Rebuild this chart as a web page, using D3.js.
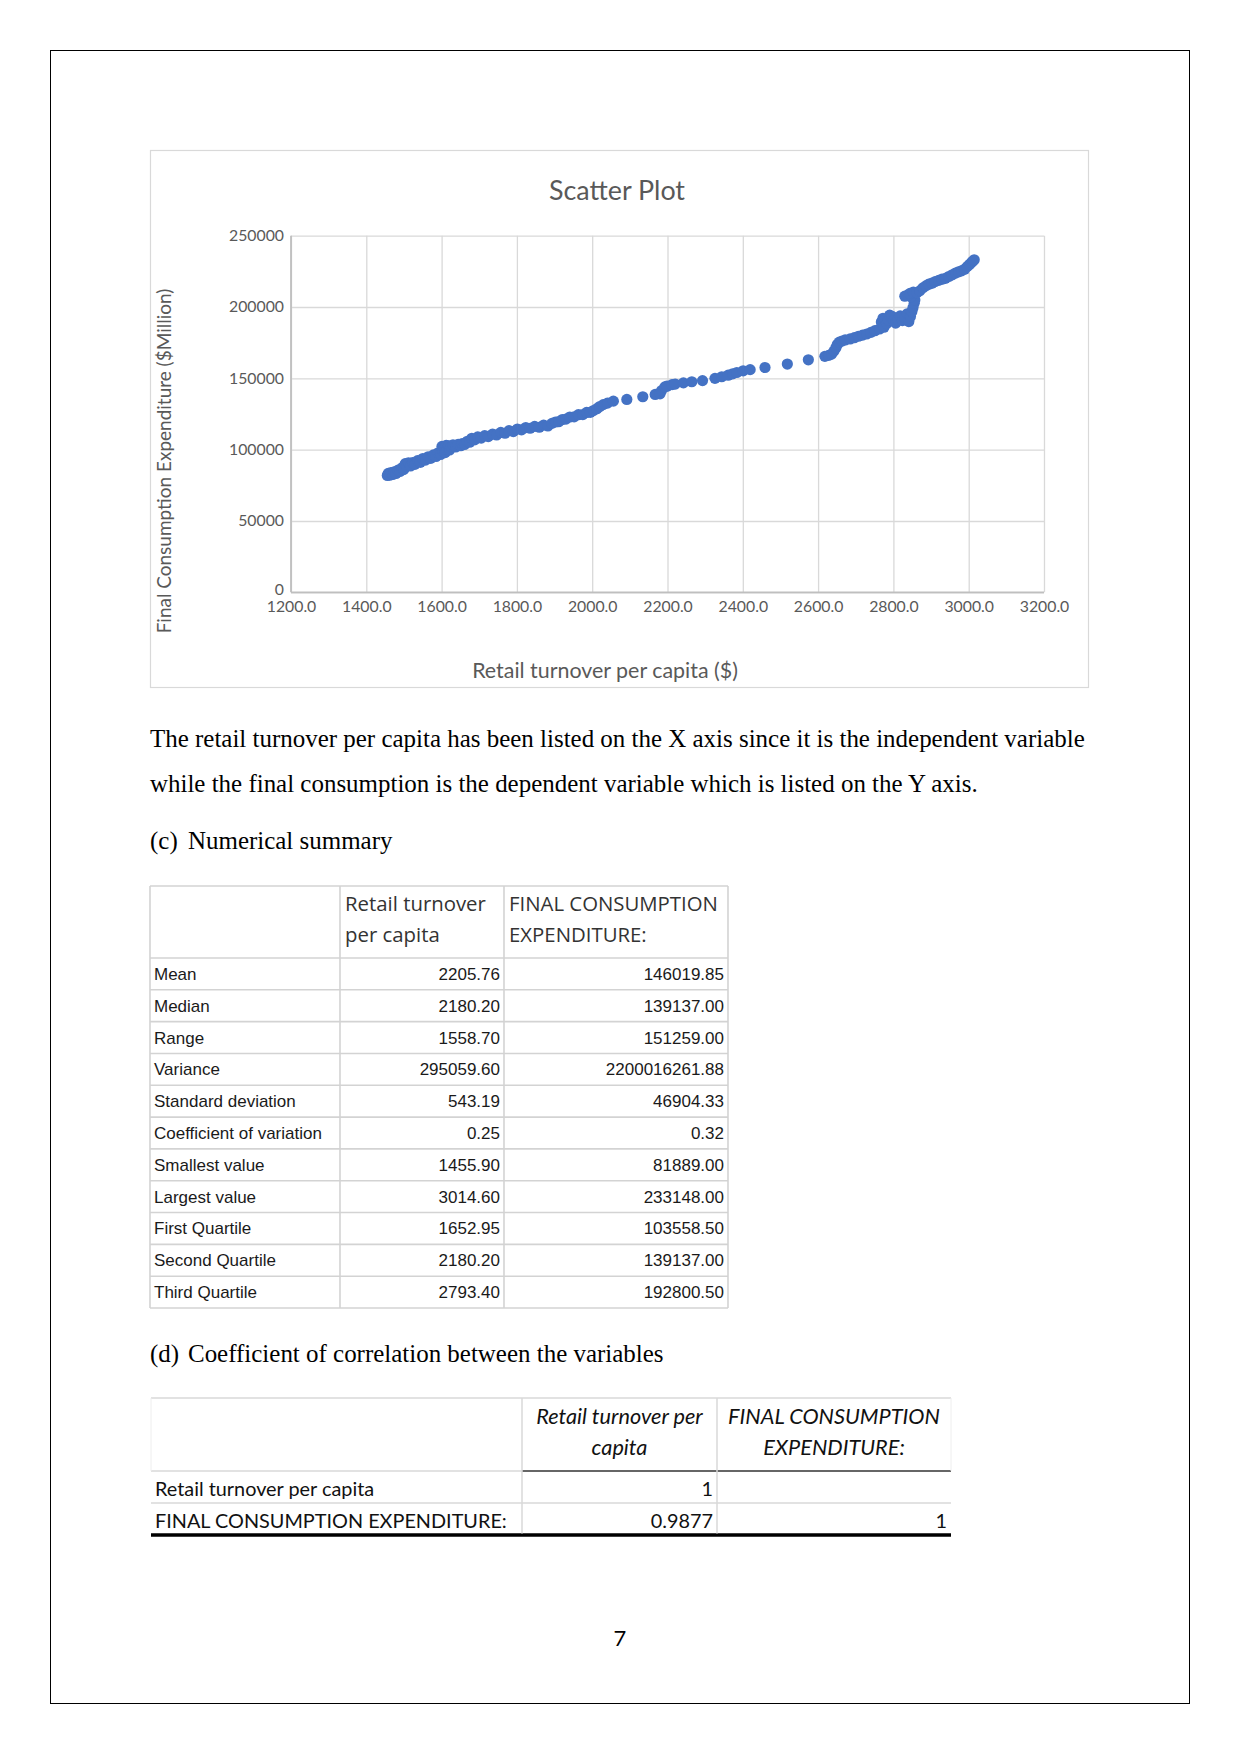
<!DOCTYPE html>
<html>
<head>
<meta charset="utf-8">
<script src="https://cdn.jsdelivr.net/npm/d3@7/dist/d3.min.js"></script>
<style>
  html, body { margin: 0; padding: 0; background: #fff; }
  svg { display: block; }
</style>
</head>
<body>
<svg id="page" width="1241" height="1754"></svg>
<script>
// ---------------- DATA ----------------
const retailTurnover = [
  1455.9,1458.3,1462.1,1465.8,1470.4,1474.2,1479.0,1484.3,1489.1,1494.6,1499.2,1503.5,1507.3,1512.0,1517.4,
  1523.1,1529.0,1536.2,1543.5,1550.1,1557.3,1564.2,1571.0,1578.4,1585.2,1591.0,1597.3,1601.0,1603.7,1606.1,
  1609.4,1612.2,1615.0,1618.3,1621.1,1625.4,1630.2,1637.5,1644.0,1651.2,
  1654.7,1661.0,1668.2,1674.5,1680.3,1687.9,1696.0,1705.2,1714.4,1724.0,1735.3,1746.1,1757.2,1768.4,1779.0,
  1790.5,1801.2,1812.3,1823.6,1835.0,1847.2,1859.4,1871.0,1882.3,1893.1,1902.4,1911.0,1920.6,1930.2,1940.5,
  1952.0,1963.4,1975.1,1985.3,1995.0,2003.2,2012.5,2020.1,2029.3,2040.6,2056.2,2092.0,2134.4,2167.3,2180.2,
  2184.0,2193.1,2198.5,2212.2,2220.4,2242.3,2264.5,2293.0,2326.1,
  2344.0,2361.2,2373.0,2384.1,2401.0,2419.5,2459.0,2518.3,2574.1,2618.0,2628.2,2636.0,2642.1,
  2647.3,2651.0,2656.2,2663.4,2672.0,2685.1,2696.3,2707.0,2718.2,2729.0,2740.3,2751.0,2763.2,2768.0,2772.4,
  2775.0,2778.6,2782.0,2786.3,2790.1,
  2793.4,2796.0,2801.2,2806.0,2812.3,2818.1,2824.0,2830.2,2836.4,2841.0,2845.3,2849.1,2852.0,2855.2,2857.0,
  2846.3,2838.0,2830.4,2844.1,2853.0,2862.2,2870.0,2878.3,2886.1,2894.0,2902.2,2911.0,2920.3,2929.0,2938.1,
  2947.0,2956.2,2965.0,2973.1,2981.0,2989.2,2996.0,3002.1,3007.0,3011.3,3014.6
];
const finalConsumption = [
  81889,83400,82100,84000,82600,84500,83300,85600,84700,87200,86000,90200,88300,90800,88600,
  91000,89700,92300,91100,93800,92700,95000,93900,96300,95200,97800,96600,102300,99000,101000,
  97900,103000,100200,102700,99800,102200,103400,101900,103700,102800,
  104300,103600,105900,105200,108000,106900,108900,108100,109800,109200,110900,110300,112100,111500,113300,
  112700,114500,113900,115500,115000,116300,115700,117200,116600,118400,119400,119600,121100,121400,122900,
  123000,124500,124600,126100,126200,127400,128700,130200,131600,132600,134000,135200,137100,138700,139137,
  141400,144000,144500,145600,146000,146800,147600,148400,150000,
  151100,152200,153200,154100,155300,156100,157600,160000,163000,165400,166100,167000,169100,
  171500,173700,175400,176100,176900,177600,178500,179500,180300,181100,182200,183400,184600,189500,192100,
  185800,191200,188400,190800,194300,
  192800,193500,190200,188700,191000,193800,190500,192600,195200,189800,193400,196800,199500,202600,205000,
  207100,208300,207600,209500,210400,210000,211300,213400,214800,216000,216700,217800,218700,219500,220100,
  221400,222600,223800,224700,225400,226500,228300,229800,231100,232200,233148
];
const xTicks = [1200,1400,1600,1800,2000,2200,2400,2600,2800,3000,3200];
const yTicks = [0,50000,100000,150000,200000,250000];

const chartTitle = "Scatter Plot";
const xTitle = "Retail turnover per capita ($)";
const yTitle = "Final Consumption Expenditure ($Million)";

const paragraphLines = [
  "The retail turnover per capita has been listed on the X axis since it is the independent variable",
  "while the final consumption is the dependent variable which is listed on the Y axis."
];
const sectionC = ["(c)", "Numerical summary"];
const sectionD = ["(d)", "Coefficient of correlation between the variables"];

const statHeaders = [["Retail turnover","per capita"],["FINAL CONSUMPTION","EXPENDITURE:"]];
const statLabels = ["Mean","Median","Range","Variance","Standard deviation","Coefficient of variation",
  "Smallest value","Largest value","First Quartile","Second Quartile","Third Quartile"];
const retailStats = [2205.76,2180.20,1558.70,295059.60,543.19,0.25,1455.90,3014.60,1652.95,2180.20,2793.40];
const consumptionStats = [146019.85,139137.00,151259.00,2200016261.88,46904.33,0.32,81889.00,233148.00,103558.50,139137.00,192800.50];

const corrHeaders = [["Retail turnover per","capita"],["FINAL CONSUMPTION","EXPENDITURE:"]];
const corrLabels = ["Retail turnover per capita","FINAL CONSUMPTION EXPENDITURE:"];
const corrValues = [["1",""],["0.9877","1"]];
const pageNumber = "7";

// ---------------- DRAW ----------------
const svg = d3.select("#page");
function fit(sel, target) {
  const w = sel.node().getComputedTextLength();
  const fs = parseFloat(sel.attr("font-size"));
  const nf = fs * target / w;
  sel.attr("font-size", nf);
  return nf;
}

// page border
svg.append("rect").attr("x", 50.5).attr("y", 50.5).attr("width", 1139).attr("height", 1653)
  .attr("fill", "none").attr("stroke", "#000").attr("stroke-width", 1);

// chart box
svg.append("rect").attr("x", 150.5).attr("y", 150.5).attr("width", 938).attr("height", 537)
  .attr("fill", "#fff").attr("stroke", "#d9d9d9").attr("stroke-width", 1.2);

const x = d3.scaleLinear().domain([1200, 3200]).range([291, 1044]);
const y = d3.scaleLinear().domain([0, 250000]).range([592.3, 235.7]);
const chartFont = "Lato, 'Open Sans', sans-serif";
const grey = "#595959";

// gridlines via axes
const gx = svg.append("g").attr("transform", `translate(0,${y(0)})`)
  .call(d3.axisBottom(x).tickValues(xTicks).tickSize(-(y(0) - y(250000))).tickFormat(d3.format(".1f")));
gx.select(".domain").remove();
gx.selectAll("line").attr("stroke", "#d9d9d9").attr("stroke-width", 1.3);
gx.selectAll("text").attr("fill", grey).attr("font-family", chartFont).attr("font-size", 16)
  .attr("y", 8.5).attr("dy", "0.71em");

const gy = svg.append("g").attr("transform", `translate(${x(1200)},0)`)
  .call(d3.axisLeft(y).tickValues(yTicks).tickSize(-(x(3200) - x(1200))).tickFormat(d3.format("d")));
gy.select(".domain").remove();
gy.selectAll("line").attr("stroke", "#d9d9d9").attr("stroke-width", 1.3);
gy.selectAll("text").attr("fill", grey).attr("font-family", chartFont).attr("font-size", 16)
  .attr("x", -7).attr("dy", d => d === 0 ? "0.15em" : "0.3em");

// tick label size
const probe = gy.selectAll("text").filter(d => d === 250000);
const tfs = fit(probe, 55);
gy.selectAll("text").attr("font-size", tfs);
gx.selectAll("text").attr("font-size", tfs);

// axis lines (slightly darker)
svg.append("line").attr("x1", x(1200)).attr("x2", x(1200)).attr("y1", y(250000)).attr("y2", y(0))
  .attr("stroke", "#bfbfbf").attr("stroke-width", 1.8);
svg.append("line").attr("x1", x(1200)).attr("x2", x(3200)).attr("y1", y(0)).attr("y2", y(0))
  .attr("stroke", "#bfbfbf").attr("stroke-width", 1.8);

// points
const pts = retailTurnover.map((v, i) => [v, finalConsumption[i]]);
svg.append("g").selectAll("circle").data(pts).join("circle")
  .attr("cx", d => x(d[0])).attr("cy", d => y(d[1])).attr("r", 5.6)
  .attr("fill", "#4472c4");

// titles
const t = svg.append("text").attr("x", 617).attr("y", 200).attr("text-anchor", "middle")
  .attr("font-family", chartFont).attr("font-size", 24).attr("fill", grey).text(chartTitle);
fit(t, 136);
const xt = svg.append("text").attr("x", 605).attr("y", 678).attr("text-anchor", "middle")
  .attr("font-family", chartFont).attr("font-size", 18).attr("fill", grey).text(xTitle);
fit(xt, 266);
const yt = svg.append("text").attr("transform", "translate(171,461) rotate(-90)").attr("text-anchor", "middle")
  .attr("font-family", chartFont).attr("font-size", 17).attr("fill", grey).text(yTitle);
fit(yt, 345);

// body text
const serif = "'Liberation Serif', 'Times New Roman', serif";
const p1 = svg.append("text").attr("x", 150).attr("y", 747).attr("font-family", serif)
  .attr("font-size", 22).attr("fill", "#000").text(paragraphLines[0]);
const bfs = fit(p1, 935);
svg.append("text").attr("x", 150).attr("y", 792).attr("font-family", serif)
  .attr("font-size", bfs).attr("fill", "#000").text(paragraphLines[1]);
svg.append("text").attr("x", 150).attr("y", 849).attr("font-family", serif)
  .attr("font-size", bfs).text(sectionC[0]);
svg.append("text").attr("x", 188).attr("y", 849).attr("font-family", serif)
  .attr("font-size", bfs).text(sectionC[1]);
svg.append("text").attr("x", 150).attr("y", 1362).attr("font-family", serif)
  .attr("font-size", bfs).text(sectionD[0]);
svg.append("text").attr("x", 188).attr("y", 1362).attr("font-family", serif)
  .attr("font-size", bfs).text(sectionD[1]);

// ---------------- TABLE 1 ----------------
const t1 = svg.append("g");
const t1Cols = [150, 340, 504, 728];
const t1Top = 886, t1HeadBottom = 958, t1Row = (1308 - 958) / statLabels.length;
const lineC = "#d3d3d3";
const t1Hy = [t1Top, t1HeadBottom].concat(statLabels.map((_, i) => t1HeadBottom + (i + 1) * t1Row));
t1.selectAll("line.h").data(t1Hy).join("line").attr("class", "h")
  .attr("x1", t1Cols[0]).attr("x2", t1Cols[3]).attr("y1", d => d).attr("y2", d => d)
  .attr("stroke", lineC).attr("stroke-width", 1.6);
t1.selectAll("line.v").data(t1Cols).join("line").attr("class", "v")
  .attr("x1", d => d).attr("x2", d => d).attr("y1", t1Top).attr("y2", 1308)
  .attr("stroke", lineC).attr("stroke-width", 1.6);
const hFont = "'Open Sans', 'Noto Sans', sans-serif";
const hdrs = [];
statHeaders.forEach((lines, c) => {
  lines.forEach((ln, j) => {
    hdrs.push(t1.append("text").attr("x", t1Cols[c + 1] + 5).attr("y", 911 + j * 31)
      .attr("font-family", hFont).attr("font-size", 18).attr("fill", "#333").text(ln));
  });
});
const hfs = fit(hdrs[2], 209);
hdrs.forEach(h => h.attr("font-size", hfs));
const bFont = "'Liberation Sans', Arial, sans-serif";
const lbls = t1.selectAll("text.lbl").data(statLabels).join("text").attr("class", "lbl")
  .attr("x", 154).attr("y", (d, i) => t1HeadBottom + i * t1Row + t1Row / 2 + 6)
  .attr("font-family", bFont).attr("font-size", 16).attr("fill", "#1a1a1a").text(d => d);
const probe2 = lbls.filter(d => d === "Coefficient of variation");
const lfs = fit(probe2, 168);
lbls.attr("font-size", lfs);
[retailStats, consumptionStats].forEach((arr, c) => {
  t1.selectAll("text.v" + c).data(arr).join("text").attr("class", "v" + c)
    .attr("x", t1Cols[c + 2] - 4).attr("y", (d, i) => t1HeadBottom + i * t1Row + t1Row / 2 + 6)
    .attr("text-anchor", "end").attr("font-family", bFont).attr("font-size", lfs).attr("fill", "#1a1a1a")
    .text(d => d.toFixed(2));
});

// ---------------- TABLE 2 ----------------
const t2 = svg.append("g");
const t2Cols = [151, 522, 717, 951];
const t2Rows = [1398, 1471, 1503, 1535];
const c2 = "#d9d9d9";
t2.append("line").attr("x1", t2Cols[0]).attr("x2", t2Cols[3]).attr("y1", t2Rows[0]).attr("y2", t2Rows[0])
  .attr("stroke", c2).attr("stroke-width", 1.5);
t2.append("line").attr("x1", t2Cols[0]).attr("x2", t2Cols[1]).attr("y1", t2Rows[1]).attr("y2", t2Rows[1])
  .attr("stroke", c2).attr("stroke-width", 1.5);
t2.append("line").attr("x1", t2Cols[1]).attr("x2", t2Cols[3]).attr("y1", t2Rows[1]).attr("y2", t2Rows[1])
  .attr("stroke", "#333").attr("stroke-width", 1.6);
t2.append("line").attr("x1", t2Cols[0]).attr("x2", t2Cols[3]).attr("y1", t2Rows[2]).attr("y2", t2Rows[2])
  .attr("stroke", c2).attr("stroke-width", 1.5);
t2.append("line").attr("x1", t2Cols[0]).attr("x2", t2Cols[3]).attr("y1", t2Rows[3]).attr("y2", t2Rows[3])
  .attr("stroke", "#000").attr("stroke-width", 3.4);
t2.selectAll("line.v").data([t2Cols[1], t2Cols[2]]).join("line").attr("class", "v")
  .attr("x1", d => d).attr("x2", d => d).attr("y1", t2Rows[0]).attr("y2", t2Rows[3] - 1.5)
  .attr("stroke", c2).attr("stroke-width", 1.5);
t2.selectAll("line.e").data([t2Cols[0], t2Cols[3]]).join("line").attr("class", "e")
  .attr("x1", d => d).attr("x2", d => d).attr("y1", t2Rows[0]).attr("y2", t2Rows[1])
  .attr("stroke", "#eeeeee").attr("stroke-width", 1);
const cFont = "Lato, 'Open Sans', sans-serif";
const ch = [];
corrHeaders.forEach((lines, c) => {
  lines.forEach((ln, j) => {
    ch.push(t2.append("text").attr("x", (t2Cols[c + 1] + t2Cols[c + 2]) / 2).attr("y", 1424 + j * 31)
      .attr("text-anchor", "middle").attr("font-family", cFont).attr("font-style", "italic")
      .attr("font-size", 19).attr("fill", "#111").text(ln));
  });
});
const cfs = fit(ch[2], 212);
ch.forEach(h => h.attr("font-size", cfs));
const cl = t2.selectAll("text.cl").data(corrLabels).join("text").attr("class", "cl")
  .attr("x", 155).attr("y", (d, i) => [1496, 1528][i])
  .attr("font-family", cFont).attr("font-size", 19).attr("fill", "#111").text(d => d);
const clfs = fit(cl.filter((d, i) => i === 1), 352);
cl.attr("font-size", clfs);
corrValues.forEach((row, r) => {
  row.forEach((v, c) => {
    t2.append("text").attr("x", t2Cols[c + 2] - 4).attr("y", [1496, 1528][r]).attr("text-anchor", "end")
      .attr("font-family", cFont).attr("font-size", clfs).attr("fill", "#111").text(v);
  });
});

// page number
svg.append("text").attr("x", 620).attr("y", 1646).attr("text-anchor", "middle")
  .attr("font-family", cFont).attr("font-size", 22).attr("fill", "#000").text(pageNumber);
</script>
</body>
</html>
